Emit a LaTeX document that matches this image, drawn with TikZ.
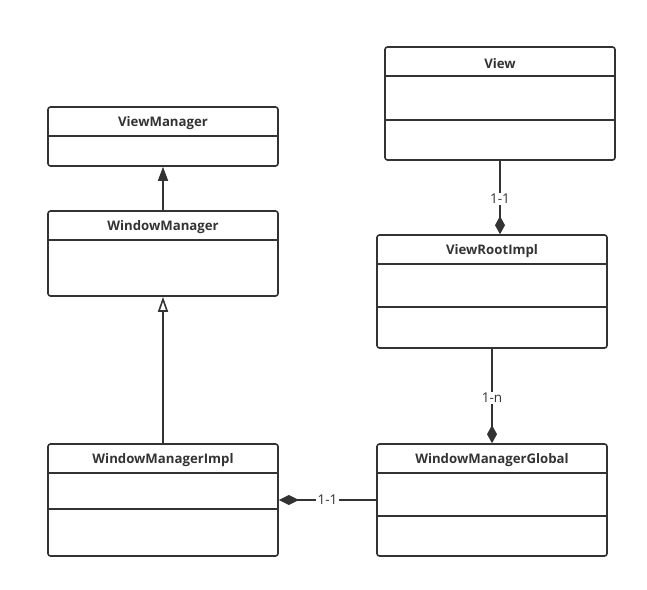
\documentclass[tikz,border=0pt]{standalone}
\usepackage{fontspec}
\setmainfont{Open Sans}
\usetikzlibrary{calc,arrows.meta}

\definecolor{umlgray}{HTML}{333333}

\tikzset{
  cls/.style={draw=umlgray, line width=1.6pt, rounded corners=2.5pt, minimum width=230pt, inner sep=0pt},
  cname/.style={font=\bfseries\fontsize{13.2}{15}\selectfont, text=umlgray, inner sep=0pt},
  sep/.style={draw=umlgray, line width=1.6pt},
  link/.style={draw=umlgray, line width=1.6pt},
  mult/.style={font=\fontsize{13.5}{15}\selectfont, text=umlgray, fill=white, inner sep=1.5pt},
}

\begin{document}
\begin{tikzpicture}[x=1pt, y=-1pt]
			%%%%% START %%%%%
			\useasboundingbox (0, 0) rectangle (647, 589);
			
			% left column
			\node[cls, minimum height=59pt] (vm) at (163, 136.5) {};
			\node[cname] at ($(vm.north)+(0, 17)$) {ViewManager};
			\draw[sep] ($(vm.north west)+(0, 30)$) -- ($(vm.north east)+(0, 30)$);
			
			\node[cls, minimum height=85pt] (wm) at (163, 253.5) {};
			\node[cname] at ($(wm.north)+(0, 17)$) {WindowManager};
			\draw[sep] ($(wm.north west)+(0, 30)$) -- ($(wm.north east)+(0, 30)$);
			
			\node[cls, minimum height=112pt] (wmi) at (163, 500) {};
			\node[cname] at ($(wmi.north)+(0, 17)$) {WindowManagerImpl};
			\draw[sep] ($(wmi.north west)+(0, 29.5)$) -- ($(wmi.north east)+(0, 29.5)$);
			\draw[sep] ($(wmi.north west)+(0, 65.5)$) -- ($(wmi.north east)+(0, 65.5)$);
			
			% right column
			\node[cls, minimum height=113pt] (view) at (500, 103.5) {};
			\node[cname] at ($(view.north)+(0, 17)$) {View};
			\draw[sep] ($(view.north west)+(0, 30)$) -- ($(view.north east)+(0, 30)$);
			\draw[sep] ($(view.north west)+(0, 73.5)$) -- ($(view.north east)+(0, 73.5)$);
			
			\node[cls, minimum height=113pt] (vri) at (492, 291.5) {};
			\node[cname] at ($(vri.north)+(0, 17)$) {ViewRootImpl};
			\draw[sep] ($(vri.north west)+(0, 30)$) -- ($(vri.north east)+(0, 30)$);
			\draw[sep] ($(vri.north west)+(0, 72.5)$) -- ($(vri.north east)+(0, 72.5)$);
			
			\node[cls, minimum height=112pt] (wmg) at (492, 500) {};
			\node[cname] at ($(wmg.north)+(0, 17)$) {WindowManagerGlobal};
			\draw[sep] ($(wmg.north west)+(0, 29.5)$) -- ($(wmg.north east)+(0, 29.5)$);
			\draw[sep] ($(wmg.north west)+(0, 73)$) -- ($(wmg.north east)+(0, 73)$);
			
			% inheritance
			\draw[link, -{Triangle[length=14pt, width=10pt, fill=umlgray]}] (wm.north) -- (vm.south);
			\draw[link, -{Triangle[length=15pt, width=10pt, open, fill=white]}] (wmi.north) -- (wm.south);
			
			% composition
			\draw[link, -{Diamond[length=18pt, width=10pt, fill=umlgray]}] (view.south) -- (view.south |- vri.north)
				node[mult, pos=0.52] {1-1};
			\draw[link, -{Diamond[length=18pt, width=10pt, fill=umlgray]}] (vri.south) -- (wmg.north)
				node[mult, pos=0.52] {1-n};
			\draw[link, -{Diamond[length=20pt, width=10pt, fill=umlgray]}] (wmg.west) -- (wmi.east)
				node[mult, pos=0.5] {1-1};
			
			%%%%% END %%%%%
		\end{tikzpicture}
\end{document}
